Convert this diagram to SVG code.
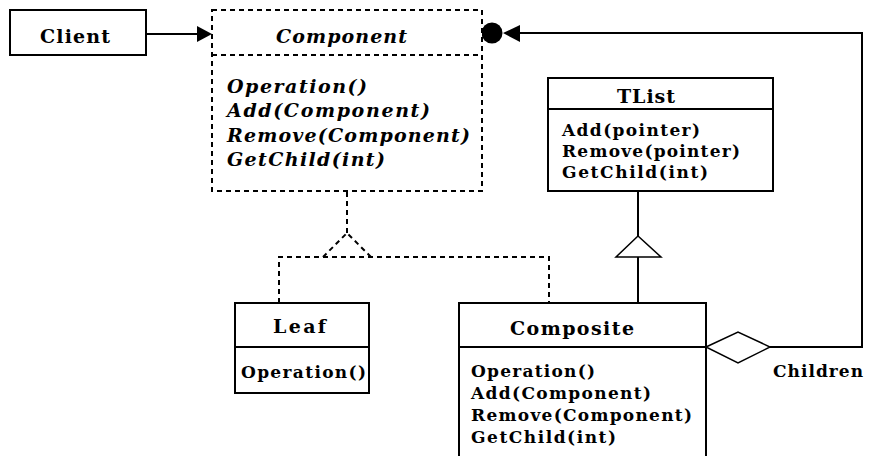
<svg xmlns="http://www.w3.org/2000/svg" width="869" height="456" viewBox="0 0 869 456">
<style>
.box{fill:#fff;stroke:#000;stroke-width:2}
.dbox{fill:#fff;stroke:#000;stroke-width:2;stroke-dasharray:5 4}
.ln{fill:none;stroke:#000;stroke-width:2}
.dln{fill:none;stroke:#000;stroke-width:2;stroke-dasharray:5 4}
text{font-family:"DejaVu Serif","Liberation Serif",serif;font-weight:bold;font-size:19px;fill:#000}
.it{font-style:italic}
.sm{font-size:17px}
</style>
<rect width="869" height="456" fill="#fff"/>
<g id="connectors">
  <line class="ln" x1="146" y1="34" x2="199" y2="34"/>
  <polygon points="212,34 197,26 197,42" fill="#000"/>
  <polyline class="ln" points="519,33 862,33 862,347 770,347"/>
  <circle cx="492" cy="33" r="10.5" fill="#000"/>
  <polygon points="503,33 520,25 520,42" fill="#000"/>
  <polygon points="706,347 738,332 770,347 738,363" fill="#fff" stroke="#000" stroke-width="1.5"/>
  <line class="ln" x1="638" y1="191" x2="638" y2="236"/>
  <polygon points="638,236 616,257 661,257" fill="#fff" stroke="#000" stroke-width="1.5"/>
  <line class="ln" x1="638" y1="257" x2="638" y2="303"/>
  <line class="dln" x1="347" y1="192" x2="347" y2="233"/>
  <polyline class="dln" points="323,257 347,233 371,257"/>
  <polyline class="dln" points="279,303 279,257 549,257 549,303"/>
</g>
<g id="client">
  <rect class="box" x="10" y="10" width="136" height="45"/>
  <text x="40" y="43" textLength="70">Client</text>
</g>
<g id="component">
  <rect class="dbox" x="212" y="10" width="270" height="181"/>
  <line class="dln" x1="212" y1="55" x2="482" y2="55"/>
  <text class="it" x="276" y="43" textLength="131">Component</text>
  <text class="it" x="227" y="93" textLength="140">Operation()</text>
  <text class="it" x="227" y="117" textLength="203">Add(Component)</text>
  <text class="it" x="227" y="142" textLength="243">Remove(Component)</text>
  <text class="it" x="227" y="166" textLength="158">GetChild(int)</text>
</g>
<g id="tlist">
  <rect class="box" x="548" y="78" width="225" height="113"/>
  <line class="ln" x1="548" y1="109" x2="773" y2="109"/>
  <text x="617" y="103" textLength="58">TList</text>
  <text class="sm" x="562" y="136" textLength="138">Add(pointer)</text>
  <text class="sm" x="562" y="157" textLength="178">Remove(pointer)</text>
  <text class="sm" x="562" y="178" textLength="146">GetChild(int)</text>
</g>
<g id="leaf">
  <rect class="box" x="235" y="303" width="134" height="90"/>
  <line class="ln" x1="235" y1="347" x2="369" y2="347"/>
  <text x="273" y="333" textLength="53">Leaf</text>
  <text class="sm" x="241" y="378" textLength="125">Operation()</text>
</g>
<g id="composite">
  <rect class="box" x="459" y="303" width="247" height="160"/>
  <line class="ln" x1="459" y1="347" x2="706" y2="347"/>
  <text x="510" y="335" textLength="124">Composite</text>
  <text class="sm" x="471" y="377" textLength="124">Operation()</text>
  <text class="sm" x="471" y="399" textLength="180">Add(Component)</text>
  <text class="sm" x="471" y="421" textLength="221">Remove(Component)</text>
  <text class="sm" x="471" y="443" textLength="145">GetChild(int)</text>
</g>
<g id="children-label">
  <text class="sm" x="773" y="377" textLength="90">Children</text>
</g>
</svg>
